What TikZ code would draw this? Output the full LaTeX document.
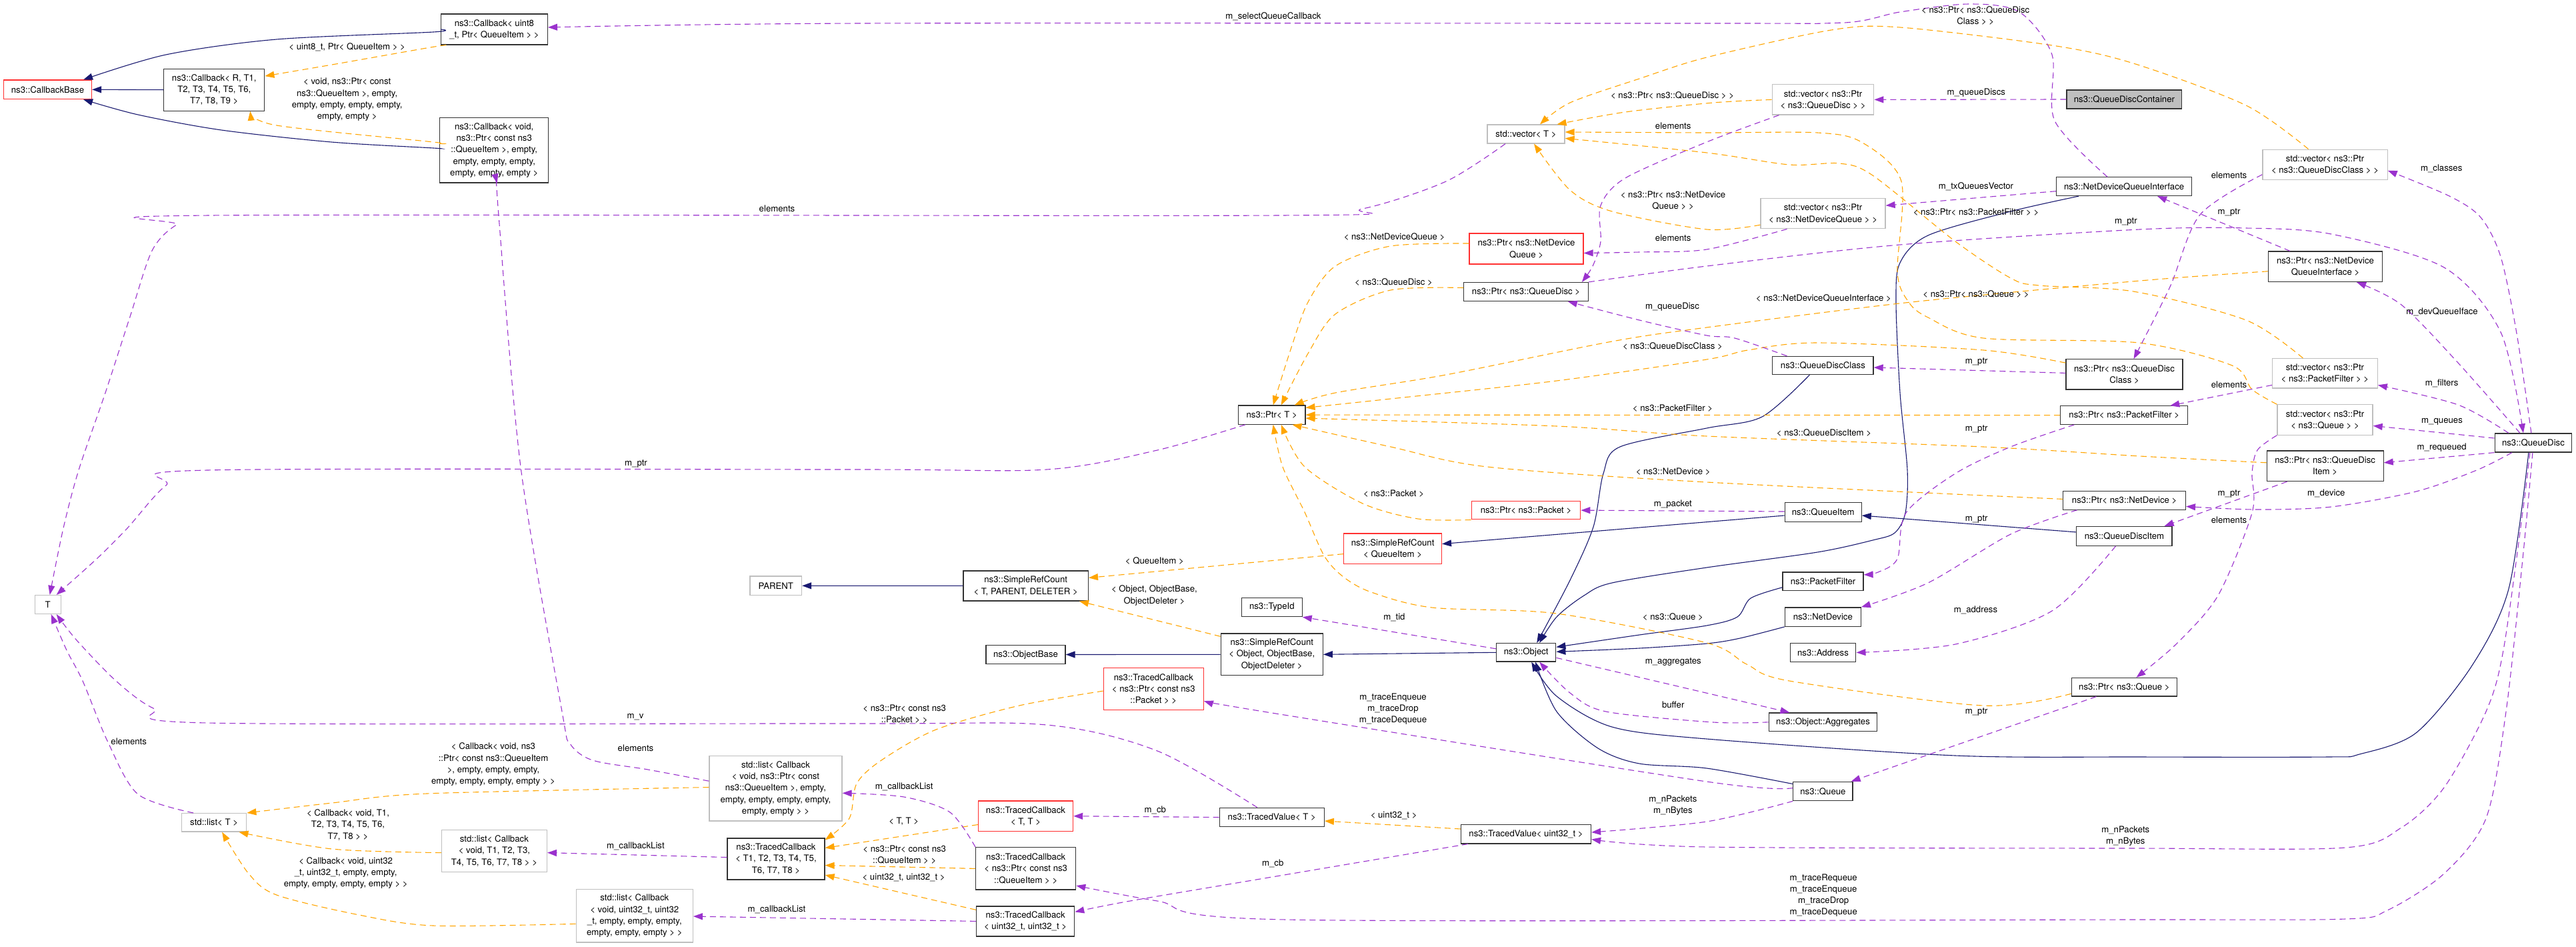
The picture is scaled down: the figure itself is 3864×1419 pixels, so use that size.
\documentclass[tikz,border=0pt]{standalone}
\usepackage{fontspec}
\setmainfont{TeX Gyre Heros}
\usetikzlibrary{arrows.meta}

\definecolor{inhblue}{HTML}{191970}
\definecolor{usepurple}{HTML}{9A32CD}
\definecolor{tmplorange}{HTML}{FFA500}
\definecolor{extgray}{HTML}{BFBFBF}
\definecolor{truncred}{HTML}{FF3030}

\tikzset{
  dbox/.style={rectangle, draw, align=center, inner sep=1pt, line width=1.2pt,
    font=\fontsize{13.2}{17.3}\selectfont},
  clsbox/.style={dbox, draw=black!80},
  extbox/.style={dbox, draw=extgray},
  truncbox/.style={dbox, draw=truncred},
  rootbox/.style={dbox, draw=black!80, fill=extgray},
  sz/.style 2 args={minimum width=#1, minimum height=#2},
  edgelbl/.style={align=center, inner sep=0pt, font=\fontsize{13.2}{17.3}\selectfont},
  inhedge/.style={inhblue, line width=1.1pt, -{Triangle[length=14pt,width=10pt]}},
  useedge/.style={usepurple, line width=1.1pt, dash pattern=on 9pt off 6pt,
    -{Triangle[length=14pt,width=10pt]}},
  tmpledge/.style={tmplorange, line width=1.1pt, dash pattern=on 9pt off 6pt,
    -{Triangle[length=14pt,width=10pt]}}
}

\begin{document}
\begin{tikzpicture}[x=1pt, y=-1pt]
        \useasboundingbox (0,0) rectangle (3864,1419);
        \fill[white] (0,0) rectangle (3864,1419);

        % Draw the class boxes, column by column
        \node[truncbox, sz={132}{28.5}] (cbBase) at (71.5,134.3) {ns3::CallbackBase};
        \node[extbox, sz={39}{28}] (T) at (71.7,906.5) {T};

        \node[clsbox, sz={151}{63}] (cbR) at (321.3,134.7) {ns3::Callback< R, T1,\\ T2, T3, T4, T5, T6,\\ T7, T8, T9 >};
        \node[extbox, sz={97.4}{27.5}] (listT) at (321.1,1233.3) {std::list< T >};

        \node[clsbox, sz={160}{46}] (cbU8) at (741.4,44) {ns3::Callback< uint8\\\_t, Ptr< QueueItem > >};
        \node[clsbox, sz={163}{97.4}] (cbVoid) at (741.2,225.3) {ns3::Callback< void,\\ ns3::Ptr< const ns3\\::QueueItem >, empty,\\ empty, empty, empty,\\ empty, empty, empty >};
        \node[extbox, sz={158}{63.3}] (listCbT) at (741.4,1275.8) {std::list< Callback\\< void, T1, T2, T3,\\ T4, T5, T6, T7, T8 > >};

        \node[extbox, sz={175}{79.4}] (listCbU32) at (951.8,1373.3) {std::list< Callback\\< void, uint32\_t, uint32\\\_t, empty, empty, empty,\\ empty, empty, empty > >};

        \node[extbox, sz={77.6}{28.6}] (parent) at (1163.8,878.3) {PARENT};
        \node[extbox, sz={199}{97.7}] (listCbQI) at (1163.5,1182.2) {std::list< Callback\\< void, ns3::Ptr< const\\ ns3::QueueItem >, empty,\\ empty, empty, empty, empty,\\ empty, empty > >};
        \node[clsbox, sz={146}{62}] (tcT18) at (1164,1288) {ns3::TracedCallback\\< T1, T2, T3, T4, T5,\\ T6, T7, T8 >};

        \node[clsbox, sz={187.4}{45}] (srcTPD) at (1538.7,878.4) {ns3::SimpleRefCount\\< T, PARENT, DELETER >};
        \node[clsbox, sz={119}{28.4}] (objBase) at (1538.5,981.5) {ns3::ObjectBase};
        \node[truncbox, sz={142.2}{45.5}] (tcTT) at (1538.5,1223.7) {ns3::TracedCallback\\< T, T >};
        \node[clsbox, sz={150}{63.2}] (tcQI) at (1538.7,1302.4) {ns3::TracedCallback\\< ns3::Ptr< const ns3\\::QueueItem > >};
        \node[clsbox, sz={147.2}{45}] (tcU32) at (1538.1,1381.4) {ns3::TracedCallback\\< uint32\_t, uint32\_t >};

        \node[truncbox, sz={150}{62.8}] (tcPacket) at (1730.3,1033.1) {ns3::TracedCallback\\< ns3::Ptr< const ns3\\::Packet > >};

        \node[clsbox, sz={100.5}{28.2}] (ptrT) at (1907.7,622.1) {ns3::Ptr< T >};
        \node[clsbox, sz={90.7}{28.5}] (typeId) at (1907.8,910.4) {ns3::TypeId};
        \node[clsbox, sz={153}{62.8}] (srcObj) at (1907.8,981.3) {ns3::SimpleRefCount\\< Object, ObjectBase,\\ ObjectDeleter >};
        \node[clsbox, sz={157}{28.4}] (tvT) at (1907.8,1225.5) {ns3::TracedValue< T >};

        \node[truncbox, sz={146.7}{45.4}] (srcQI) at (2089.1,822.6) {ns3::SimpleRefCount\\< QueueItem >};

        \node[extbox, sz={116}{28}] (vecT) at (2289,201) {std::vector< T >};
        \node[truncbox, sz={171}{46}] (ptrNDQ) at (2289.5,373) {ns3::Ptr< ns3::NetDevice\\Queue >};
        \node[clsbox, sz={186.5}{28}] (ptrQD) at (2289,437.5) {ns3::Ptr< ns3::QueueDisc >};
        \node[truncbox, sz={163.4}{27.5}] (ptrPacket) at (2289,765.1) {ns3::Ptr< ns3::Packet >};
        \node[clsbox, sz={89.2}{27.5}] (object) at (2289.2,978.3) {ns3::Object};
        \node[clsbox, sz={195}{28.4}] (tvU32) at (2289,1250.7) {ns3::TracedValue< uint32\_t >};

        \node[extbox, sz={152.6}{45.3}] (vecPtrQD) at (2734.5,149.4) {std::vector< ns3::Ptr\\< ns3::QueueDisc > >};
        \node[extbox, sz={187}{45.3}] (vecPtrNDQ) at (2734.5,320.2) {std::vector< ns3::Ptr\\< ns3::NetDeviceQueue > >};
        \node[clsbox, sz={151.3}{27.2}] (qdClass) at (2734.4,548) {ns3::QueueDiscClass};
        \node[clsbox, sz={115}{28.9}] (queueItem) at (2734.7,768) {ns3::QueueItem};
        \node[clsbox, sz={121}{27.6}] (packetFilter) at (2734.5,871.8) {ns3::PacketFilter};
        \node[clsbox, sz={114}{28.4}] (netDevice) at (2734.3,925.1) {ns3::NetDevice};
        \node[clsbox, sz={98.7}{27.9}] (address) at (2734.5,978.5) {ns3::Address};
        \node[clsbox, sz={162.5}{27.5}] (aggregates) at (2734.5,1082.8) {ns3::Object::Aggregates};
        \node[clsbox, sz={89.2}{28.4}] (queue) at (2734.4,1186.5) {ns3::Queue};

        \node[rootbox, sz={172.8}{28}] (qdContainer) at (3186.4,149) {ns3::QueueDiscContainer};
        \node[clsbox, sz={203.2}{27.7}] (ndqi) at (3186.1,279.7) {ns3::NetDeviceQueueInterface};
        \node[clsbox, sz={175}{45.3}] (ptrQDC) at (3186.5,561.4) {ns3::Ptr< ns3::QueueDisc\\Class >};
        \node[clsbox, sz={191}{27.5}] (ptrPF) at (3186.2,622.6) {ns3::Ptr< ns3::PacketFilter >};
        \node[clsbox, sz={183.6}{27.5}] (ptrNetDev) at (3186.6,750.4) {ns3::Ptr< ns3::NetDevice >};
        \node[clsbox, sz={143.3}{29}] (qdItem) at (3186.4,803.9) {ns3::QueueDiscItem};
        \node[clsbox, sz={158.3}{27.5}] (ptrQueue) at (3186.4,1030.2) {ns3::Ptr< ns3::Queue >};

        \node[extbox, sz={187.2}{45.3}] (vecPtrQDC) at (3487.5,246.8) {std::vector< ns3::Ptr\\< ns3::QueueDiscClass > >};
        \node[clsbox, sz={171}{45.6}] (ptrNDQI) at (3488,399.8) {ns3::Ptr< ns3::NetDevice\\QueueInterface >};
        \node[extbox, sz={157.6}{44.4}] (vecPtrPF) at (3487.4,559.8) {std::vector< ns3::Ptr\\< ns3::PacketFilter > >};
        \node[extbox, sz={143.1}{45.3}] (vecPtrQ) at (3487.5,629.5) {std::vector< ns3::Ptr\\< ns3::Queue > >};
        \node[clsbox, sz={175}{45.5}] (ptrQDI) at (3487.6,698.8) {ns3::Ptr< ns3::QueueDisc\\Item >};

        \node[clsbox, sz={115.7}{28.1}] (queueDisc) at (3799.9,664) {ns3::QueueDisc};

        % Draw inheritance arrows
        \draw[inhedge] plot[smooth] coordinates {(cbU8.west) (650,48) (415,59) (249,82) ([xshift=-13]cbBase.north east)};
        \draw[inhedge] (cbR.west) -- (cbBase.east);
        \draw[inhedge] plot[smooth] coordinates {([yshift=2.5]cbVoid.west) (650,222) (497,213) (332,195) (207,172) ([xshift=-13]cbBase.south east)};
        \draw[inhedge] (srcTPD.west) -- (parent.east);
        \draw[inhedge] (srcObj.west) -- (objBase.east);
        \draw[inhedge] (object.west) -- (srcObj.east);
        \draw[inhedge] ([yshift=-5]queueItem.west) -- ([yshift=7]srcQI.east);
        \draw[inhedge] ([yshift=6]qdItem.west) -- ([yshift=-5]queueItem.east);
        \draw[inhedge] plot[smooth] coordinates {([xshift=-20]qdClass.south) (2643,625) (2560,642) (2430,670) (2405,710) (2390,790) (2355,870) ([xshift=16]object.north)};
        \draw[inhedge] plot[smooth] coordinates {([xshift=-68]ndqi.south) (3016,317) (2892,353) (2850,394) (2844,453) (2850,589) (2861,705) (2858,769) (2842,799) (2809,810) (2726,828) (2560,851) (2418,874) (2376,893) (2335,925) ([xshift=20]object.north)};
        \draw[inhedge] plot[smooth] coordinates {([yshift=-9]packetFilter.west) (2626,897) (2606,925) (2560,938) (2459,952) ([yshift=8]object.east)};
        \draw[inhedge] plot[smooth] coordinates {(netDevice.south west) (2610,957) (2560,965) (2459,972) ([yshift=1]object.east)};
        \draw[inhedge] plot[smooth] coordinates {([xshift=-7]queueDisc.south) (3763,883) (3708,998) (3624,1099) (3539,1131) (3492,1135) (3210,1135) (2933,1133) (2560,1108) (2418,1090) (2335,1044) ([xshift=8]object.south)};
        \draw[inhedge] plot[smooth] coordinates {([yshift=11]queue.west) (2560,1152) (2459,1145) (2397,1122) (2335,1067) ([xshift=14]object.south)};

        % Draw template instance arrows
        \draw[tmpledge] plot[smooth] coordinates {([xshift=-72]cbU8.south) (640,72) (498,97) ([yshift=20.6]cbR.east)};
        \draw[tmpledge] plot[smooth] coordinates {([yshift=10]cbVoid.west) (650,213) (415,188) ([xshift=54]cbR.south)};
        \draw[tmpledge] ([yshift=-8]srcQI.west) -- ([yshift=12]srcTPD.east);
        \draw[tmpledge] ([yshift=-5]srcObj.north west) -- ([xshift=-14]srcTPD.south east);
        \draw[tmpledge] ([yshift=7.7]tvU32.west) -- ([yshift=-5.5]tvT.east);
        \draw[tmpledge] plot[smooth] coordinates {([yshift=-3]tcPacket.west) (1529,1058) (1404,1094) (1322,1140) (1285,1175) (1274,1227) ([yshift=-3]tcT18.north east)};
        \draw[tmpledge] ([yshift=-12.8]tcTT.west) -- ([yshift=16.5]tcT18.east);
        \draw[tmpledge] (tcQI.west) -- ([yshift=-9.5]tcT18.east);
        \draw[tmpledge] ([yshift=-6]tcU32.north west) -- ([yshift=-24]tcT18.east);
        \draw[tmpledge] plot[smooth] coordinates {([yshift=1.7]listCbQI.west) (640,1190) (498,1204) (listT.north east)};
        \draw[tmpledge] plot[smooth] coordinates {([yshift=-2.8]listCbT.west) (498,1273) ([xshift=-12]listT.south east)};
        \draw[tmpledge] plot[smooth] coordinates {([yshift=-12]listCbU32.west) (650,1388) (539,1372) (415,1342) (373,1310) ([xshift=12]listT.south)};
        \draw[tmpledge] plot[smooth] coordinates {(vecPtrQD.west) (2570,154) (2438,168) ([xshift=-12]vecT.north east)};
        \draw[tmpledge] plot[smooth] coordinates {([xshift=-25]vecPtrQDC.north) (3369,158) (3200,95) (3078,68) (2850,41) (2747,45) (2560,86) (2459,118) (2355,154) ([xshift=21]vecT.north)};
        \draw[tmpledge] plot[smooth] coordinates {([yshift=-17]vecPtrNDQ.west) (2560,344) (2418,317) (2355,285) ([xshift=12]vecT.south)};
        \draw[tmpledge] plot[smooth] coordinates {([xshift=-33]vecPtrPF.north) (3369,480) (3200,437) (3058,428) (3016,417) (2933,362) (2809,263) (2759,245) (2684,247) (2560,229) ([yshift=-6.4]vecT.east)};
        \draw[tmpledge] plot[smooth] coordinates {(vecPtrQ.north west) (3378,584) (3348,548) (3208,514) (2975,507) (2892,476) (2863,453) (2846,408) (2852,272) (2792,213) (2726,199) (2560,199) ([yshift=3]vecT.east)};
        \draw[tmpledge] plot[smooth] coordinates {([yshift=8]ptrNDQ.west) (2086,369) (2003,399) (1962,453) (1937,521) ([xshift=2]ptrT.north)};
        \draw[tmpledge] plot[smooth] coordinates {([yshift=6]ptrQD.west) (2086,435) (2003,471) (1962,530) ([xshift=14]ptrT.north)};
        \draw[tmpledge] plot[smooth] coordinates {([yshift=-7]ptrNDQI.west) (3210,421) (2867,453) (2560,491) (2418,512) (2169,562) (2003,589) ([xshift=34]ptrT.north)};
        \draw[tmpledge] plot[smooth] coordinates {([yshift=-6]ptrQDC.north west) (2975,525) (2726,514) (2622,525) (2560,539) (2335,571) (2086,598) ([yshift=-4]ptrT.north east)};
        \draw[tmpledge] (ptrPF.west) -- (ptrT.east);
        \draw[tmpledge] plot[smooth] coordinates {([yshift=5]ptrQDI.west) (3210,684) (2975,670) (2560,654) (2335,639) ([yshift=-5]ptrT.east)};
        \draw[tmpledge] plot[smooth] coordinates {([yshift=2]ptrNetDev.west) (2560,723) (2231,700) (2086,670) ([xshift=-20]ptrT.south east)};
        \draw[tmpledge] plot[smooth] coordinates {(ptrPacket.south west) (2127,778) (2044,755) (1957,700) ([xshift=14]ptrT.south)};
        \draw[tmpledge] plot[smooth] coordinates {([yshift=-10]ptrQueue.west) (2975,1058) (2684,1021) (2620,996) (2560,964) (2335,920) (2148,911) (2057,888) (2015,865) (1986,833) (1957,768) (1924,700) ([xshift=2]ptrT.south)};

        % Draw usage arrows
        \draw[useedge] (qdContainer.west) -- (vecPtrQD.east);
        \draw[useedge] plot[smooth] coordinates {([xshift=-25]ndqi.north) (3082,181) (3078,82) (3029,18) (2954,6) (2850,18) (2767,34) (2560,35) (1290,35) ([yshift=3]cbU8.east)};
        \draw[useedge] ([yshift=-7]ndqi.west) -- ([yshift=12]vecPtrNDQ.east);
        \draw[useedge] plot[smooth] coordinates {([xshift=-54]vecPtrNDQ.south) (2560,374) (2459,378) ([yshift=-6.5]ptrNDQ.east)};
        \draw[useedge] plot[smooth] coordinates {([xshift=-66]vecPtrQD.south) (2560,213) (2438,267) (2401,308) (2401,362) (2389,399) ([xshift=-10]ptrQD.north east)};
        \draw[useedge] plot[smooth] coordinates {([xshift=-54]qdClass.north) (2602,507) (2560,503) (2459,480) ([xshift=-31]ptrQD.south east)};
        \draw[useedge] plot[smooth] coordinates {(ptrQD.north east) (2560,399) (2850,367) (3210,344) (3369,342) (3497,351) (3666,401) (3751,498) ([xshift=-15]queueDisc.north)};
        \draw[useedge] plot[smooth] coordinates {([xshift=-3]queueDisc.north) (3775,500) (3751,385) (3721,326) (3674,294) ([yshift=-9]vecPtrQDC.east)};
        \draw[useedge] plot[smooth] coordinates {([yshift=-15]vecPtrQDC.west) (3300,322) (3255,430) ([xshift=14]ptrQDC.north)};
        \draw[useedge] ([xshift=-53]ptrNDQI.north) -- ([xshift=50]ndqi.south);
        \draw[useedge] plot[smooth] coordinates {([xshift=-20]queueDisc.north) (3687,544) (3602,457) ([xshift=47]ptrNDQI.south)};
        \draw[useedge] ([yshift=2]ptrQDC.west) -- ([yshift=-3]qdClass.east);
        \draw[useedge] plot[smooth] coordinates {([xshift=-37]queueDisc.north) (3687,607) ([yshift=-17.6]vecPtrPF.east)};
        \draw[useedge] ([yshift=-17.6]vecPtrPF.west) -- ([xshift=69]ptrPF.north);
        \draw[useedge] ([yshift=7]queueDisc.west) -- ([yshift=-9]vecPtrQ.east);
        \draw[useedge] (queueDisc.south west) -- ([yshift=5]ptrQDI.east);
        \draw[useedge] ([xshift=-57]ptrQDI.south) -- ([xshift=-12]qdItem.north east);
        \draw[useedge] plot[smooth] coordinates {([xshift=-32]queueDisc.south) (3715,705) (3624,737) (3497,760) (3382,764) ([yshift=-9]ptrNetDev.east)};
        \draw[useedge] plot[smooth] coordinates {(vecPtrQ.south west) (3386,675) (3378,710) (3378,769) (3327,893) (3264,966) ([xshift=18]ptrQueue.north)};
        \draw[useedge] plot[smooth] coordinates {([xshift=-71]ptrNetDev.south) (3016,801) (2892,874) (netDevice.north east)};
        \draw[useedge] plot[smooth] coordinates {([xshift=-75]ptrPF.south) (3016,670) (2933,710) (2859,769) (2846,838) (2817,858) ([yshift=10]packetFilter.east)};
        \draw[useedge] ([yshift=1]queueItem.west) -- (ptrPacket.east);
        \draw[useedge] plot[smooth] coordinates {([xshift=-13]qdItem.south) (3078,916) (2933,966) (address.east)};
        \draw[useedge] ([yshift=5.5]object.west) -- (typeId.south east);
        \draw[useedge] ([yshift=-8]object.east) -- ([xshift=-50]aggregates.north);
        \draw[useedge] plot[smooth] coordinates {(aggregates.west) (2570,1083) (2409,1067) (2355,1039) ([xshift=20]object.south)};
        \draw[useedge] ([xshift=-42]ptrQueue.south) -- ([xshift=-3]queue.north east);
        \draw[useedge] plot[smooth] coordinates {([yshift=5]queue.west) (2560,1172) (1920,1071) ([yshift=-18]tcPacket.east)};
        \draw[useedge] plot[smooth] coordinates {(queue.south west) (2560,1232) ([yshift=2.7]tvU32.east)};
        \draw[useedge] plot[smooth] coordinates {([xshift=-5]queueDisc.south) (3785,760) (3755,975) (3729,1067) (3666,1181) (3602,1241) (3518,1271) (3200,1272) (2560,1270) ([yshift=-7.8]tvU32.east)};
        \draw[useedge] plot[smooth] coordinates {([xshift=-1]queueDisc.south) (3784,838) (3759,1067) (3729,1227) (3666,1310) (3581,1365) (3518,1378) (3200,1379) (1930,1379) (1736,1351) ([yshift=-25.6]tcQI.east)};
        \draw[useedge] plot[smooth] coordinates {([xshift=-87]tvU32.south) (1920,1313) (1695,1351) ([yshift=14]tcU32.east)};
        \draw[useedge] (tvT.west) -- (tcTT.east);
        \draw[useedge] plot[smooth] coordinates {([xshift=-22]tvT.north) (1736,1126) (1570,1087) (1280,1085) (311,1084) (230,1062) (174,1021) (115,960) ([xshift=13]T.south)};
        \draw[useedge] ([yshift=2.5]tcT18.west) -- ([yshift=-2.8]listCbT.east);
        \draw[useedge] plot[smooth] coordinates {(tcQI.north west) (1425,1218) (1356,1195) ([yshift=-7]listCbQI.east)};
        \draw[useedge] (tcU32.west) -- ([yshift=-0.7]listCbU32.east);
        \draw[useedge] plot[smooth] coordinates {([yshift=11]listCbQI.west) (972,1154) (889,1140) (855,1115) (843,1067) (781,700) (748,323) ([xshift=4.5]cbVoid.south)};
        \draw[useedge] plot[smooth] coordinates {([xshift=-31]vecT.south) (2169,272) (2044,313) (1920,323) (315,323) (265,337) (228,376) (195,475) (158,589) (118,705) (95,792) ([xshift=3]T.north)};
        \draw[useedge] plot[smooth] coordinates {([xshift=11]ptrT.south west) (1736,675) (1570,704) (1280,704) (311,705) (249,728) (191,792) (145,838) ([xshift=13]T.north)};
        \draw[useedge] plot[smooth] coordinates {([xshift=-31]listT.north) (207,1191) (162,1113) (124,1021) (100,975) ([xshift=5]T.south)};

        % Add labels
        \node[edgelbl] (lbU8) at (520.7,71.1) {< uint8\_t, Ptr< QueueItem > >};
        \node[edgelbl] (lbVoid) at (520.7,149.4) {< void, ns3::Ptr< const\\ ns3::QueueItem >, empty,\\ empty, empty, empty, empty,\\ empty, empty >};
        \node[edgelbl] (lbSelQ) at (1910,24.5) {m\_selectQueueCallback};
        \node[edgelbl] (lbElemVecT) at (1165.5,312.5) {elements};
        \node[edgelbl] (lbPtrT) at (954,695.2) {m\_ptr};
        \node[edgelbl] (lbElemListT) at (193.2,1111.3) {elements};
        \node[edgelbl] (lbMv) at (953,1075) {m\_v};
        \node[edgelbl] (lbElemCbQI) at (953.5,1121.8) {elements};
        \node[edgelbl] (lbCbQIlist) at (740,1146.4) {< Callback< void, ns3\\::Ptr< const ns3::QueueItem\\>, empty, empty, empty,\\ empty, empty, empty, empty > >};
        \node[edgelbl] (lbCbT) at (522,1237) {< Callback< void, T1,\\ T2, T3, T4, T5, T6,\\ T7, T8 > >};
        \node[edgelbl] (lbCbU32) at (518.7,1309.1) {< Callback< void, uint32\\\_t, uint32\_t, empty, empty,\\ empty, empty, empty, empty > >};
        \node[edgelbl] (lbCbList1) at (953.4,1268.5) {m\_callbackList};
        \node[edgelbl] (lbCbList2) at (1165,1364) {m\_callbackList};
        \node[edgelbl] (lbCbList3) at (1356.2,1180) {m\_callbackList};
        \node[edgelbl] (lbPacketC) at (1356.7,1070.8) {< ns3::Ptr< const ns3\\::Packet > >};
        \node[edgelbl] (lbTT) at (1355.7,1232) {< T, T >};
        \node[edgelbl] (lbQIc) at (1356.7,1281.4) {< ns3::Ptr< const ns3\\::QueueItem > >};
        \node[edgelbl] (lbU32U32) at (1355.6,1315.8) {< uint32\_t, uint32\_t >};
        \node[edgelbl] (lbQueueItemT) at (1731.9,840.9) {< QueueItem >};
        \node[edgelbl] (lbObjT) at (1731.4,892.9) {< Object, ObjectBase,\\ ObjectDeleter >};
        \node[edgelbl] (lbCb1) at (1732.8,1214.4) {m\_cb};
        \node[edgelbl] (lbCb2) at (1909.2,1294.7) {m\_cb};
        \node[edgelbl] (lbNDQ) at (2091.5,355.5) {< ns3::NetDeviceQueue >};
        \node[edgelbl] (lbQD) at (2090.5,423.5) {< ns3::QueueDisc >};
        \node[edgelbl] (lbPacket) at (2090.5,739.9) {< ns3::Packet >};
        \node[edgelbl] (lbTid) at (2091.4,926) {m\_tid};
        \node[edgelbl] (lbTrace3) at (2089.5,1063.3) {m\_traceEnqueue\\m\_traceDrop\\m\_traceDequeue};
        \node[edgelbl] (lbU32) at (2090.6,1222.7) {< uint32\_t >};
        \node[edgelbl] (lbPtrQDv) at (2508.5,142.7) {< ns3::Ptr< ns3::QueueDisc > >};
        \node[edgelbl] (lbElemQD) at (2509.7,188.4) {elements};
        \node[edgelbl] (lbPtrNDQv) at (2509.5,300.6) {< ns3::Ptr< ns3::NetDevice\\Queue > >};
        \node[edgelbl] (lbElemNDQ) at (2509.7,356.4) {elements};
        \node[edgelbl] (lbQueueDisc) at (2508.5,459.7) {m\_queueDisc};
        \node[edgelbl] (lbQDCc) at (2509,519.5) {< ns3::QueueDiscClass >};
        \node[edgelbl] (lbPF) at (2509,612.3) {< ns3::PacketFilter >};
        \node[edgelbl] (lbNetDev) at (2509.7,706.9) {< ns3::NetDevice >};
        \node[edgelbl] (lbPacketM) at (2509.4,756.4) {m\_packet};
        \node[edgelbl] (lbQueueC) at (2509.4,925) {< ns3::Queue >};
        \node[edgelbl] (lbAggr) at (2509.8,992.5) {m\_aggregates};
        \node[edgelbl] (lbBuffer) at (2509.7,1056.3) {buffer};
        \node[edgelbl] (lbNP1) at (2509.4,1207.8) {m\_nPackets\\m\_nBytes};
        \node[edgelbl] (lbQDCv) at (2963.2,23.8) {< ns3::Ptr< ns3::QueueDisc\\Class > >};
        \node[edgelbl] (lbQDs) at (2964.3,139.5) {m\_queueDiscs};
        \node[edgelbl] (lbTxQ) at (2964,279.4) {m\_txQueuesVector};
        \node[edgelbl] (lbPFv) at (2964,318.4) {< ns3::Ptr< ns3::PacketFilter > >};
        \node[edgelbl] (lbPtr1) at (3188.8,333) {m\_ptr};
        \node[edgelbl] (lbQv) at (2964,440.7) {< ns3::Ptr< ns3::Queue > >};
        \node[edgelbl] (lbNDQIc) at (2735.4,447) {< ns3::NetDeviceQueueInterface >};
        \node[edgelbl] (lbPtrQDC) at (2964.7,542.6) {m\_ptr};
        \node[edgelbl] (lbPtrPF) at (2964.7,644) {m\_ptr};
        \node[edgelbl] (lbQDIc) at (2736,648.6) {< ns3::QueueDiscItem >};
        \node[edgelbl] (lbPtrND) at (2964.7,778.9) {m\_ptr};
        \node[edgelbl] (lbAddr) at (2963.5,914.6) {m\_address};
        \node[edgelbl] (lbPtrQ) at (2964.7,1067.7) {m\_ptr};
        \node[edgelbl] (lbNP2) at (3188.3,1253.4) {m\_nPackets\\m\_nBytes};
        \node[edgelbl] (lbTrace4) at (2735.2,1342.6) {m\_traceRequeue\\m\_traceEnqueue\\m\_traceDrop\\m\_traceDequeue};
        \node[edgelbl] (lbElemQDC) at (3343.5,262.7) {elements};
        \node[edgelbl] (lbPtrNDQI) at (3343.5,318.4) {m\_ptr};
        \node[edgelbl] (lbElemPF) at (3343.5,576.5) {elements};
        \node[edgelbl] (lbPtrQDI) at (3343.5,740.3) {m\_ptr};
        \node[edgelbl] (lbElemQ) at (3343.5,780.2) {elements};
        \node[edgelbl] (lbClasses) at (3662.2,252.7) {m\_classes};
        \node[edgelbl] (lbDevQ) at (3663,467.4) {m\_devQueueIface};
        \node[edgelbl] (lbFilters) at (3662.6,575) {m\_filters};
        \node[edgelbl] (lbQueues) at (3663,632.7) {m\_queues};
        \node[edgelbl] (lbRequeued) at (3662.7,671.2) {m\_requeued};
        \node[edgelbl] (lbDevice) at (3489.3,740.3) {m\_device};
    \end{tikzpicture}
\end{document}
